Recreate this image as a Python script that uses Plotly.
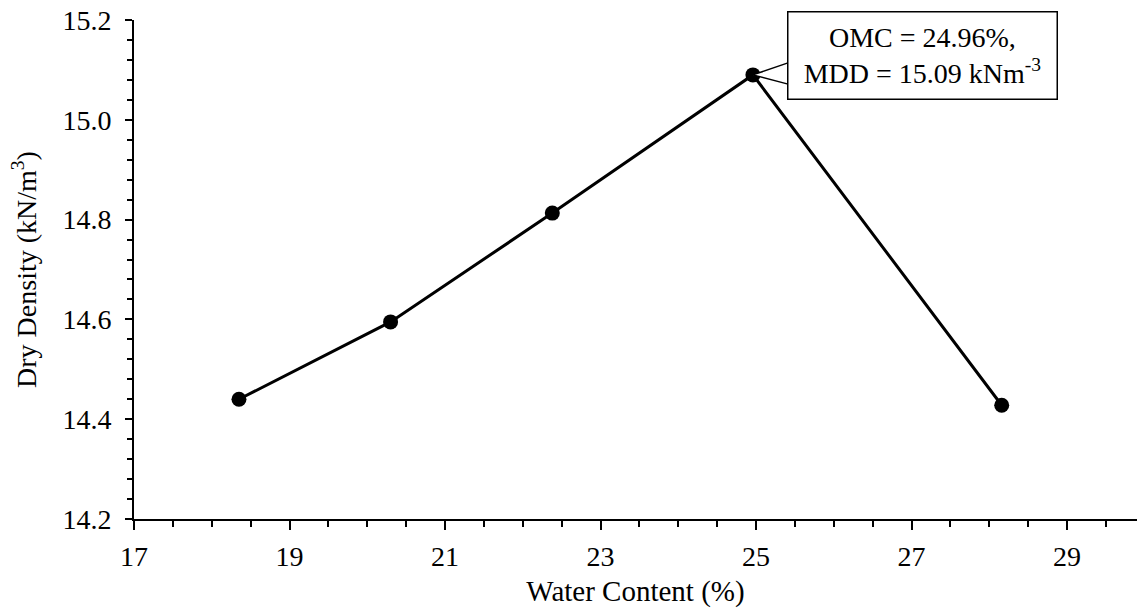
import plotly.graph_objects as go

water_content = [18.35, 20.30, 22.38, 24.96, 28.16]
dry_density = [14.440, 14.595, 14.813, 15.090, 14.428]
x_ticks = [17, 19, 21, 23, 25, 27, 29]
y_ticks = [14.2, 14.4, 14.6, 14.8, 15.0, 15.2]
omc = 24.96
mdd = 15.09

FONT = "Liberation Serif"

fig = go.Figure()
fig.add_trace(go.Scatter(
    x=water_content, y=dry_density, mode="lines+markers",
    line=dict(color="black", width=3),
    marker=dict(color="black", size=15),
    showlegend=False, cliponaxis=False,
))

# callout pointer wedge (pixel offsets from the peak point)
fig.add_shape(
    type="path", xref="x", yref="y",
    xsizemode="pixel", ysizemode="pixel",
    xanchor=omc, yanchor=mdd,
    path="M 38 13 L 0 0 L 38 -10",
    line=dict(color="black", width=1.5),
    fillcolor="white", layer="above",
)

fig.add_annotation(
    x=omc, y=mdd, xref="x", yref="y",
    text="OMC = 24.96%,<br>MDD = 15.09 kNm<sup>-3</sup>",
    showarrow=False, xshift=170, yshift=19,
    width=262, height=80, borderpad=3,
    bordercolor="black", borderwidth=1.5, bgcolor="white",
    font=dict(family=FONT, size=28, color="black"),
    align="center",
)

fig.update_layout(
    width=1138, height=615,
    margin=dict(l=134, r=1, t=20, b=96),
    paper_bgcolor="white", plot_bgcolor="white",
    font=dict(family=FONT, size=28, color="black"),
    xaxis=dict(
        range=[17, 29.9], tickvals=x_ticks, ticktext=[str(v) for v in x_ticks],
        showgrid=False, zeroline=False,
        showline=True, linecolor="black", linewidth=2,
        ticks="outside", ticklen=9, tickwidth=2, tickcolor="black",
        minor=dict(dtick=0.5, tick0=17, ticks="outside", ticklen=6, tickwidth=2, tickcolor="black", showgrid=False),
        tickfont=dict(family=FONT, size=28),
        ticklabelstandoff=2,
        title=dict(text="Water Content (%)", font=dict(family=FONT, size=29), standoff=10),
    ),
    yaxis=dict(
        range=[14.2, 15.2], tickvals=y_ticks, ticktext=[f"{v:.1f}" for v in y_ticks],
        showgrid=False, zeroline=False,
        showline=True, linecolor="black", linewidth=2,
        ticks="outside", ticklen=7, tickwidth=2, tickcolor="black",
        minor=dict(dtick=0.04, tick0=14.2, ticks="outside", ticklen=5, tickwidth=2, tickcolor="black", showgrid=False),
        tickfont=dict(family=FONT, size=28),
        ticklabelstandoff=8,
        title=dict(text="Dry Density (kN/m<sup>3</sup>)", font=dict(family=FONT, size=28), standoff=18),
    ),
)

fig.write_html("out.html")
